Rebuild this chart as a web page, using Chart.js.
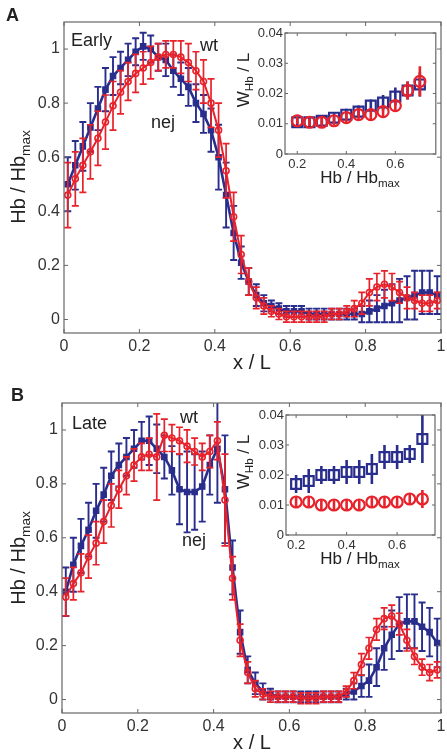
<!DOCTYPE html>
<html><head><meta charset="utf-8">
<script src="https://cdn.jsdelivr.net/npm/chart.js@4.4.0/dist/chart.umd.min.js"></script>
<style>
body{margin:0;background:#fff;width:447px;height:756px;overflow:hidden;position:relative;font-family:"Liberation Sans",Arial,sans-serif;}
canvas{position:absolute;}
.t{position:absolute;color:#222;white-space:nowrap;line-height:1;}
.t sub{font-size:0.68em;vertical-align:-0.38em;line-height:0;}
.rot{transform:translate(-50%,-50%) rotate(-90deg);}
.ctr{transform:translate(-50%,-50%);}
</style></head><body>
<canvas id="cA" width="447" height="380" style="left:0;top:0"></canvas>
<canvas id="cB" width="447" height="376" style="left:0;top:380px"></canvas>
<canvas id="iA" width="217" height="175" style="left:228px;top:21px"></canvas>
<canvas id="iB" width="217" height="175" style="left:228px;top:403px"></canvas>

<div class="t" style="left:6px;top:6px;font-weight:bold;font-size:18px">A</div>
<div class="t" style="left:71px;top:31px;font-size:18px">Early</div>
<div class="t" style="left:200px;top:36px;font-size:18px">wt</div>
<div class="t" style="left:151px;top:113px;font-size:18px">nej</div>
<div class="t rot" style="left:18px;top:177px;font-size:20px">Hb / Hb<sub>max</sub></div>
<div class="t ctr" style="left:252px;top:362px;font-size:20px">x / L</div>
<div class="t rot" style="left:243px;top:80px;font-size:17px">W<sub>Hb</sub> / L</div>
<div class="t ctr" style="left:360px;top:177px;font-size:17px">Hb / Hb<sub>max</sub></div>

<div class="t" style="left:11px;top:386px;font-weight:bold;font-size:18px">B</div>
<div class="t" style="left:72px;top:414px;font-size:18px">Late</div>
<div class="t" style="left:180px;top:408px;font-size:18px">wt</div>
<div class="t" style="left:182px;top:531px;font-size:18px">nej</div>
<div class="t rot" style="left:18px;top:558px;font-size:20px">Hb / Hb<sub>max</sub></div>
<div class="t ctr" style="left:252px;top:742px;font-size:20px">x / L</div>
<div class="t rot" style="left:243px;top:462px;font-size:17px">W<sub>Hb</sub> / L</div>
<div class="t ctr" style="left:360px;top:558px;font-size:17px">Hb / Hb<sub>max</sub></div>

<script>
// ---------- data ----------
const xPos = [0.01,0.03,0.05,0.07,0.09,0.11,0.13,0.15,0.17,0.19,0.21,0.23,0.25,0.27,0.29,0.31,0.33,0.35,0.37,0.39,
              0.41,0.43,0.45,0.47,0.49,0.51,0.53,0.55,0.57,0.59,0.61,0.63,0.65,0.67,0.69,0.71,0.73,0.75,0.77,0.79,
              0.81,0.83,0.85,0.87,0.89,0.91,0.93,0.95,0.97,0.99];

// Panel A (Early)
const wtA = [0.46,0.52,0.57,0.62,0.67,0.73,0.79,0.84,0.88,0.91,0.93,0.95,0.97,0.98,0.98,0.97,0.95,0.92,0.88,0.80,
             0.70,0.55,0.38,0.24,0.14,0.08,0.05,0.03,0.02,0.01,0.01,0.01,0.01,0.01,0.01,0.02,0.02,0.03,0.04,0.06,
             0.10,0.12,0.13,0.12,0.10,0.08,0.07,0.06,0.06,0.07];
const wtAErr = [0.12,0.10,0.10,0.10,0.10,0.10,0.09,0.08,0.07,0.07,0.06,0.06,0.05,0.05,0.05,0.06,0.07,0.07,0.08,0.09,
                0.10,0.10,0.09,0.07,0.05,0.04,0.03,0.02,0.02,0.02,0.02,0.02,0.02,0.02,0.02,0.02,0.02,0.02,0.03,0.04,
                0.05,0.05,0.05,0.05,0.04,0.04,0.03,0.03,0.03,0.03];
const nejA = [0.50,0.57,0.64,0.71,0.78,0.85,0.90,0.93,0.96,0.99,1.01,1.00,0.97,0.96,0.92,0.89,0.86,0.80,0.76,0.70,
              0.60,0.46,0.32,0.21,0.14,0.09,0.06,0.05,0.04,0.03,0.03,0.03,0.02,0.02,0.02,0.02,0.02,0.02,0.02,0.02,
              0.03,0.04,0.05,0.06,0.07,0.08,0.09,0.10,0.10,0.09];
const nejAErr = [0.10,0.09,0.09,0.09,0.08,0.08,0.07,0.06,0.06,0.05,0.05,0.05,0.05,0.06,0.06,0.06,0.07,0.07,0.07,0.08,
                 0.12,0.12,0.10,0.06,0.05,0.04,0.03,0.02,0.02,0.02,0.02,0.02,0.02,0.02,0.02,0.02,0.02,0.02,0.02,0.03,
                 0.04,0.05,0.06,0.07,0.08,0.08,0.09,0.08,0.08,0.07];

// Panel B (Late)
const wtB = [0.38,0.43,0.47,0.53,0.58,0.66,0.72,0.78,0.83,0.87,0.90,0.91,0.90,0.98,0.97,0.96,0.94,0.92,0.90,0.92,
             0.96,0.74,0.45,0.22,0.10,0.04,0.02,0.01,0.01,0.01,0.01,0.005,0.005,0.005,0.01,0.01,0.01,0.03,0.07,0.13,
             0.19,0.26,0.30,0.31,0.28,0.22,0.16,0.12,0.10,0.11];
const wtBErr = [0.07,0.06,0.07,0.08,0.08,0.08,0.08,0.07,0.07,0.06,0.05,0.06,0.16,0.06,0.05,0.05,0.06,0.05,0.05,0.06,
                0.07,0.17,0.08,0.06,0.04,0.03,0.02,0.02,0.02,0.02,0.02,0.02,0.02,0.02,0.02,0.02,0.02,0.02,0.03,0.04,
                0.04,0.04,0.04,0.04,0.04,0.04,0.03,0.03,0.03,0.03];
const nejB = [0.40,0.50,0.57,0.63,0.70,0.76,0.83,0.87,0.90,0.93,0.96,0.96,0.93,0.90,0.85,0.78,0.77,0.77,0.79,0.87,
              0.93,0.78,0.49,0.25,0.11,0.06,0.03,0.02,0.01,0.01,0.01,0.01,0.01,0.01,0.01,0.01,0.01,0.02,0.03,0.05,
              0.07,0.12,0.19,0.24,0.28,0.29,0.29,0.27,0.25,0.21];
const nejBErr = [0.09,0.10,0.10,0.10,0.10,0.10,0.09,0.08,0.07,0.07,0.07,0.09,0.09,0.08,0.09,0.13,0.15,0.14,0.13,0.11,
                 0.20,0.20,0.10,0.08,0.05,0.04,0.03,0.02,0.02,0.02,0.02,0.02,0.02,0.02,0.02,0.02,0.02,0.02,0.03,0.04,
                 0.06,0.07,0.08,0.09,0.10,0.10,0.10,0.09,0.09,0.09];

// Insets
const xInset = [0.20,0.25,0.30,0.35,0.40,0.45,0.50,0.55,0.60,0.65,0.70];
const wtInA = [0.011,0.0105,0.0105,0.011,0.012,0.013,0.013,0.014,0.016,0.021,0.024];
const wtInAErr = [0.0012,0.0012,0.0015,0.0015,0.0015,0.0015,0.0015,0.0015,0.0015,0.003,0.005];
const nejInA = [0.0105,0.0105,0.011,0.012,0.013,0.014,0.016,0.017,0.019,0.021,0.023];
const nejInAErr = [0.0012,0.0015,0.0015,0.0015,0.002,0.002,0.002,0.0025,0.003,0.003,0.004];
const wtInB = [0.011,0.011,0.010,0.010,0.010,0.010,0.011,0.011,0.011,0.012,0.012];
const wtInBErr = [0.002,0.002,0.002,0.002,0.002,0.002,0.002,0.002,0.002,0.002,0.003];
const nejInB = [0.017,0.018,0.020,0.020,0.021,0.021,0.022,0.026,0.026,0.027,0.032];
const nejInBErr = [0.003,0.004,0.003,0.003,0.004,0.004,0.005,0.004,0.004,0.003,0.008];

// ticks
const mainXTicks = [0,0.2,0.4,0.6,0.8,1];
const mainYTicks = [0,0.2,0.4,0.6,0.8,1];
const inXTicks = [0.2,0.4,0.6];
const inYTicks = [0,0.01,0.02,0.03,0.04];

// ---------- styling ----------
const RED = '#e8222b', BLUE = '#292d8c';
const FONT = '"Liberation Sans", Arial, sans-serif';

const errorBars = {
  id: 'errorBars',
  beforeDatasetDraw(chart, args) {
    const ds = chart.data.datasets[args.index];
    if (!ds.err) return;
    const {ctx, chartArea: a, scales: {x, y}} = chart;
    ctx.save();
    ctx.beginPath(); ctx.rect(a.left, a.top, a.width, a.height); ctx.clip();
    ctx.strokeStyle = ds.borderColor; ctx.lineWidth = ds.errWidth;
    ds.data.forEach((p, i) => {
      const e = ds.err[i];
      const px = x.getPixelForValue(p.x);
      const y1 = y.getPixelForValue(p.y - e), y2 = y.getPixelForValue(p.y + e);
      ctx.beginPath();
      ctx.moveTo(px, y1); ctx.lineTo(px, y2);
      if (ds.cap) {
        ctx.moveTo(px - ds.cap, y1); ctx.lineTo(px + ds.cap, y1);
        ctx.moveTo(px - ds.cap, y2); ctx.lineTo(px + ds.cap, y2);
      }
      ctx.stroke();
    });
    ctx.restore();
  }
};

const frame = {
  id: 'frame',
  beforeDatasetsDraw(chart, args, opts) {
    if (!opts.fill) return;
    const {ctx, chartArea: a} = chart;
    ctx.save(); ctx.fillStyle = '#fff'; ctx.fillRect(a.left, a.top, a.width, a.height); ctx.restore();
  },
  afterDatasetsDraw(chart, args, opts) {
    const {ctx, chartArea: a, scales: {x, y}} = chart;
    const L = opts.len || 4;
    ctx.save();
    ctx.strokeStyle = '#666'; ctx.lineWidth = 1.2;
    ctx.strokeRect(a.left, a.top, a.width, a.height);
    ctx.lineWidth = 1;
    ctx.beginPath();
    x.ticks.forEach(t => {
      const px = x.getPixelForValue(t.value);
      ctx.moveTo(px, a.bottom); ctx.lineTo(px, a.bottom - L);
      ctx.moveTo(px, a.top); ctx.lineTo(px, a.top + L);
    });
    y.ticks.forEach(t => {
      const py = y.getPixelForValue(t.value);
      ctx.moveTo(a.left, py); ctx.lineTo(a.left + L, py);
      ctx.moveTo(a.right, py); ctx.lineTo(a.right - L, py);
    });
    ctx.stroke();
    ctx.restore();
  }
};

function axis(min, max, ticks, isY, size, fontSize, pad) {
  return {
    type: 'linear', min, max,
    afterBuildTicks: s => { s.ticks = ticks.map(v => ({value: v})); },
    afterFit: s => {
      if (isY) { s.width = size; s.paddingTop = 0; s.paddingBottom = 0; }
      else { s.height = size; s.paddingLeft = 0; s.paddingRight = 0; }
    },
    grid: {display: false, drawTicks: false},
    border: {display: false},
    ticks: {color: '#333', font: {family: FONT, size: fontSize}, padding: pad,
            maxRotation: 0, autoSkip: false, callback: v => String(v)}
  };
}

function pts(xs, ys) { return xs.map((x, i) => ({x, y: ys[i]})); }

function mainChart(id, wt, wtErr, nej, nejErr, pad, xH, yW) {
  new Chart(document.getElementById(id), {
    type: 'scatter',
    data: {datasets: [
      {data: pts(xPos, wt), err: wtErr, errWidth: 1.7, cap: 3.5, showLine: true,
       borderColor: RED, borderWidth: 2, pointStyle: 'circle', pointRadius: 3,
       pointBorderWidth: 1.6, pointBackgroundColor: 'rgba(255,255,255,0)', pointBorderColor: RED},
      {data: pts(xPos, nej), err: nejErr, errWidth: 1.9, cap: 3.5, showLine: true,
       borderColor: BLUE, borderWidth: 2.6, pointStyle: 'rect', pointRadius: 3.8,
       pointBorderWidth: 1.2, pointBackgroundColor: BLUE, pointBorderColor: BLUE}
    ]},
    options: {
      responsive: false, animation: false, events: [],
      layout: {padding: pad},
      plugins: {legend: {display: false}, tooltip: {enabled: false}, frame: {len: 4}},
      scales: {
        x: axis(0, 1, mainXTicks, false, xH, 16, 4),
        y: axis(-0.05, 1.1, mainYTicks, true, yW, 16, 4)
      }
    },
    plugins: [errorBars, frame]
  });
}

function insetChart(id, wt, wtErr, nej, nejErr, xmin, xmax, pad, xH, yW) {
  new Chart(document.getElementById(id), {
    type: 'scatter',
    data: {datasets: [
      {data: pts(xInset, wt), err: wtErr, errWidth: 2.6, cap: 0, showLine: false,
       borderColor: RED, pointStyle: 'circle', pointRadius: 5.5, pointBorderWidth: 2.2,
       pointBackgroundColor: 'rgba(255,255,255,0)', pointBorderColor: RED},
      {data: pts(xInset, nej), err: nejErr, errWidth: 2.6, cap: 0, showLine: false,
       borderColor: BLUE, pointStyle: 'rect', pointRadius: 7, pointBorderWidth: 2.2,
       pointBackgroundColor: 'rgba(255,255,255,0)', pointBorderColor: BLUE}
    ]},
    options: {
      responsive: false, animation: false, events: [],
      layout: {padding: pad},
      plugins: {legend: {display: false}, tooltip: {enabled: false}, frame: {len: 3, fill: true}},
      scales: {
        x: axis(xmin, xmax, inXTicks, false, xH, 13, 3),
        y: axis(0, 0.04, inYTicks, true, yW, 13, 2)
      }
    },
    plugins: [errorBars, frame]
  });
}

mainChart('cA', wtA, wtAErr, nejA, nejAErr, {left: 0, right: 6, top: 22, bottom: 0}, 47, 64);
mainChart('cB', wtB, wtBErr, nejB, nejBErr, {left: 0, right: 6, top: 23, bottom: 0}, 43, 62);
insetChart('iA', wtInA, wtInAErr, nejInA, nejInAErr, 0.15, 0.765, {left: 0, right: 8, top: 12, bottom: 0}, 42, 57);
insetChart('iB', wtInB, wtInBErr, nejInB, nejInBErr, 0.16, 0.75, {left: 0, right: 10, top: 12, bottom: 0}, 43, 58);
</script>
</body></html>
